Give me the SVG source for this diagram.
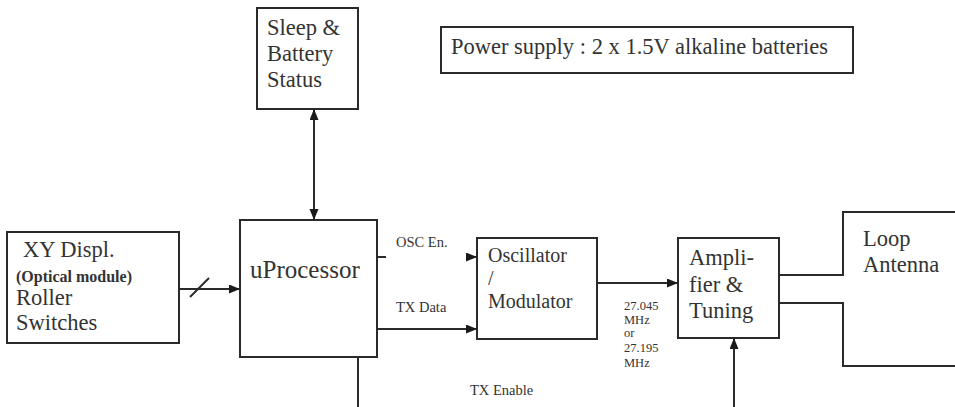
<svg xmlns="http://www.w3.org/2000/svg" width="955" height="407" viewBox="0 0 955 407">
<style>
.box{fill:#fff;stroke:#2a2a2a;stroke-width:2}
.ln{fill:none;stroke:#2a2a2a;stroke-width:2}
text{font-family:"Liberation Serif","Times New Roman",serif;fill:#333}
.t22{font-size:22.5px}
.t20{font-size:20px}
.sm{font-size:14.5px}
.xs{font-size:12.5px}
</style>
<defs>
<marker id="ah" markerUnits="userSpaceOnUse" markerWidth="11" markerHeight="10" refX="10" refY="4.5" orient="auto-start-reverse">
<path d="M0,0 L11,4.5 L0,9 z" fill="#1a1a1a"/>
</marker>
</defs>
<rect width="955" height="407" fill="#fff"/>
<g id="connectors">
<line class="ln" x1="314" y1="110" x2="314" y2="219" marker-start="url(#ah)" marker-end="url(#ah)"/>
<line class="ln" x1="180" y1="289" x2="239" y2="289" marker-end="url(#ah)"/>
<line class="ln" x1="190" y1="297" x2="209" y2="278"/>
<line class="ln" x1="377" y1="257" x2="386" y2="257"/>
<line class="ln" x1="467" y1="257" x2="476" y2="257" marker-end="url(#ah)"/>
<line class="ln" x1="377" y1="329" x2="476" y2="329" marker-end="url(#ah)"/>
<line class="ln" x1="597" y1="283" x2="677" y2="283" marker-end="url(#ah)"/>
<line class="ln" x1="358" y1="357" x2="358" y2="407"/>
<line class="ln" x1="734" y1="407" x2="734" y2="339" marker-end="url(#ah)"/>
<polyline class="ln" points="779,275 843,275 843,212 955,212"/>
<polyline class="ln" points="779,303 843,303 843,366 955,366"/>
<text class="sm" x="396" y="247">OSC En.</text>
<text class="sm" x="396" y="312">TX Data</text>
<text class="sm" x="470" y="395">TX Enable</text>
<text class="xs" x="624" y="310">27.045</text>
<text class="xs" x="624" y="324">MHz</text>
<text class="xs" x="624" y="337">or</text>
<text class="xs" x="624" y="352">27.195</text>
<text class="xs" x="624" y="367">MHz</text>
</g>
<g id="sleep">
<rect class="box" x="257" y="8" width="101" height="101"/>
<text class="t22" x="267" y="35">Sleep &amp;</text>
<text class="t22" x="267" y="61">Battery</text>
<text class="t22" x="267" y="87">Status</text>
</g>
<g id="power">
<rect class="box" x="441" y="27" width="412" height="46"/>
<text class="t22" x="451" y="54">Power supply : 2 x 1.5V alkaline batteries</text>
</g>
<g id="xy">
<rect class="box" x="7" y="232" width="172" height="111"/>
<text class="t22" x="23" y="257">XY Displ.</text>
<text x="16" y="282" style="font-size:16px;font-weight:bold">(Optical module)</text>
<text class="t22" x="16" y="305">Roller</text>
<text class="t22" x="16" y="330">Switches</text>
</g>
<g id="uprocessor">
<rect class="box" x="240" y="220" width="137" height="137"/>
<text x="250" y="278" style="font-size:25px">uProcessor</text>
</g>
<g id="oscillator">
<rect class="box" x="477" y="238" width="120" height="101"/>
<text class="t20" x="488" y="262">Oscillator</text>
<text class="t20" x="488" y="285">/</text>
<text class="t20" x="488" y="308">Modulator</text>
</g>
<g id="amplifier">
<rect class="box" x="678" y="238" width="101" height="100"/>
<text class="t22" x="689" y="265">Ampli-</text>
<text class="t22" x="689" y="292">fier &amp;</text>
<text class="t22" x="689" y="318">Tuning</text>
</g>
<g id="antenna">
<text class="t22" x="863" y="246">Loop</text>
<text class="t22" x="863" y="272">Antenna</text>
</g>
</svg>
